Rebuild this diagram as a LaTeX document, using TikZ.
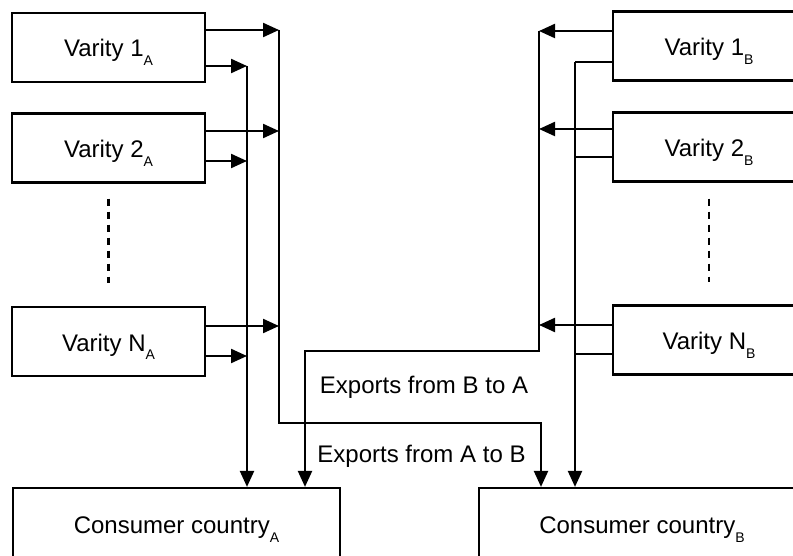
\documentclass[tikz,border=0pt]{standalone}
\usepackage{fontspec}
\setmainfont{Liberation Sans}
\usetikzlibrary{arrows.meta}
\newcommand{\subtxt}[1]{\raisebox{-9pt}{\fontsize{14}{14}\selectfont #1}}
\begin{document}
\begin{tikzpicture}[x=1pt,y=-1pt,
  box/.style={draw,line width=2.2pt,minimum width=193pt,minimum height=69pt,inner sep=0pt,text height=19pt,text depth=0pt,font=\fontsize{24}{28}\selectfont},
  cbox/.style={box,minimum height=72pt},
  wire/.style={line width=2.2pt},
  arr/.style={wire,-{Triangle[length=16pt,width=14pt]}},
  dashedline/.style={line width=2.2pt,dash pattern=on 7pt off 6pt},
  lbl/.style={font=\fontsize{24}{28}\selectfont,inner sep=0pt}]
\useasboundingbox (0,0) rectangle (793,556);
\clip (0,0) rectangle (793,556);
% boxes
\node[box] (a1) at (108.5,47.5) {Varity 1\subtxt{A}};
\node[box] (a2) at (108.5,148) {Varity 2\subtxt{A}};
\node[box] (aN) at (108.5,341.5) {Varity N\subtxt{A}};
\node[box,minimum width=192pt] (b1) at (709,46) {Varity 1\subtxt{B}};
\node[box,minimum width=192pt] (b2) at (709,147) {Varity 2\subtxt{B}};
\node[box,minimum width=192pt] (bN) at (709,340) {Varity N\subtxt{B}};
\node[cbox,minimum width=327pt] (cA) at (176.5,524) {Consumer country\subtxt{A}};
\node[cbox,minimum width=326pt] (cB) at (642,524) {Consumer country\subtxt{B}};
% dots
\draw[dashedline] ([yshift=-15pt]a2.south) -- ([yshift=23pt]aN.north);
\draw[dashedline] ([yshift=-16pt]b2.south) -- ([yshift=22pt]bN.north);
% bus coordinates
\coordinate (uA) at (279,30);
\coordinate (uA2) at (279,423);
\coordinate (uA3) at (541,423);
\coordinate (lA) at (247,66);
\coordinate (uB) at (539,31);
\coordinate (uB2) at (539,351);
\coordinate (uB3) at (305,351);
\coordinate (lB) at (575,62);
% A side feeds
\draw[arr] (a1.east |- 0,30) -- (uA);
\draw[arr] (a1.east |- 0,66) -- (lA);
\draw[arr] (a2.east |- 0,131) -- (uA |- 0,131);
\draw[arr] (a2.east |- 0,161) -- (lA |- 0,161);
\draw[arr] (aN.east |- 0,326) -- (uA |- 0,326);
\draw[arr] (aN.east |- 0,356) -- (lA |- 0,356);
% A buses
\draw[arr] (uA) -- (uA2) -- (uA3) -- (cB.north -| uA3);
\draw[arr] (lA) -- (cA.north -| lA);
% B side feeds
\draw[arr] (b1.west |- 0,31) -- (uB);
\draw[wire] (b1.west |- 0,62) -- (lB);
\draw[arr] (b2.west |- 0,129) -- (uB |- 0,129);
\draw[wire] (b2.west |- 0,157) -- (lB |- 0,157);
\draw[arr] (bN.west |- 0,325) -- (uB |- 0,325);
\draw[wire] (bN.west |- 0,354) -- (lB |- 0,354);
% B buses
\draw[arr] (uB) -- (uB2) -- (uB3) -- (cA.north -| uB3);
\draw[arr] (lB) -- (cB.north -| lB);
% labels
\node[lbl,anchor=base] (l1) at (424,393) {Exports from B to A};
\node[lbl,anchor=base] (l2) at (421.5,462) {Exports from A to B};
\end{tikzpicture}
\end{document}
